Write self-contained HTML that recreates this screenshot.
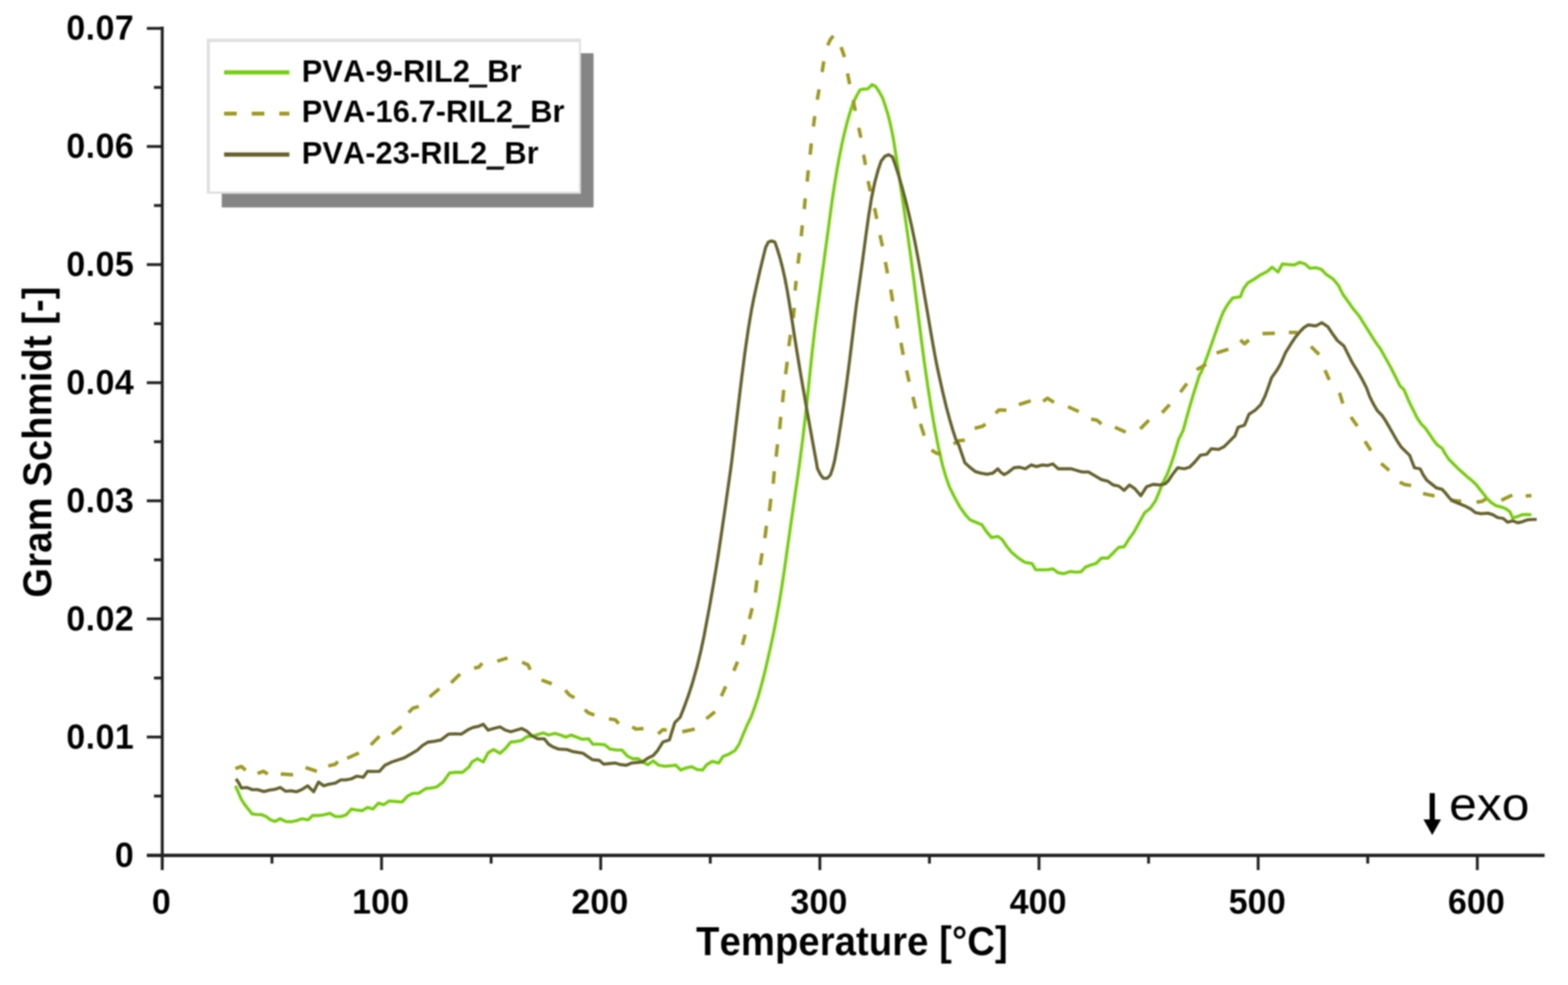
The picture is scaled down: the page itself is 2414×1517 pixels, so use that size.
<!DOCTYPE html>
<html lang="en"><head><meta charset="utf-8"><title>Gram Schmidt vs Temperature</title>
<style>
html,body{margin:0;padding:0;background:#fff;}
body{width:2414px;height:1517px;overflow:hidden;}
svg{display:block;filter:blur(1.2px);}
text{font-family:"Liberation Sans",Arial,Helvetica,sans-serif;fill:#000;font-kerning:none;}
.b{stroke:#fff;stroke-width:0.15px;}
.u{stroke:#000;stroke-width:2.4px;}
.b{font-weight:bold;}
.tk{font-size:53.6px;}
.tt{font-size:62.4px;}
.lg{font-size:47.6px;}
.ex{font-size:71.4px;}
</style></head><body>
<svg width="2414" height="1517" viewBox="0 0 2414 1517">
<rect width="2414" height="1517" fill="#fff"/>

<g fill="none" stroke-linejoin="round" stroke-linecap="butt">
<path d="M362.4,1210.3 L366.6,1219.4 L370.7,1229.4 L375.7,1237.7 L381.5,1245.2 L388.2,1253.5 L394.8,1254.3 L403.1,1254.7 L409.8,1257.6 L416.4,1262.6 L423.1,1265.1 L431.4,1261.0 L439.7,1265.1 L448.0,1265.6 L456.3,1264.0 L464.6,1261.0 L474.6,1262.6 L481.2,1256.0 L489.5,1256.0 L497.8,1255.1 L507.8,1252.7 L516.1,1257.3 L524.4,1257.6 L532.7,1255.1 L541.0,1246.0 L549.3,1247.7 L557.6,1248.5 L565.9,1243.5 L574.2,1246.0 L582.5,1236.9 L590.8,1239.4 L599.1,1233.6 L609.1,1234.4 L619.1,1235.2 L627.4,1226.1 L635.7,1221.9 L644.0,1221.9 L655.6,1214.5 L663.9,1213.6 L672.2,1212.0 L682.2,1204.5 L692.2,1190.4 L702.1,1189.5 L712.1,1189.5 L722.1,1181.2 L726.6,1173.5 L734.9,1168.5 L744.0,1173.5 L751.5,1159.4 L759.8,1154.4 L769.8,1160.2 L778.1,1152.8 L786.4,1142.8 L794.7,1142.0 L803.0,1140.3 L811.3,1134.5 L819.6,1133.7 L827.9,1131.2 L836.2,1128.7 L844.5,1132.0 L854.5,1129.5 L862.8,1132.0 L871.1,1135.3 L879.4,1132.0 L887.7,1135.3 L896.0,1138.6 L906.0,1137.8 L912.6,1146.1 L920.9,1146.1 L930.9,1146.9 L939.2,1153.6 L949.2,1155.2 L957.5,1155.2 L965.8,1164.4 L974.1,1168.5 L982.4,1168.5 L990.7,1174.4 L997.3,1177.7 L1005.6,1171.9 L1014.0,1178.5 L1023.9,1180.2 L1032.2,1179.3 L1040.5,1178.5 L1048.0,1186.0 L1056.6,1182.6 L1065.0,1180.9 L1073.3,1185.1 L1081.6,1185.9 L1088.2,1177.6 L1096.5,1172.6 L1106.5,1175.1 L1113.1,1165.1 L1121.4,1161.8 L1131.4,1156.0 L1138.0,1146.0 L1142.8,1134.4 L1149.7,1117.8 L1156.3,1104.5 L1162.3,1087.9 L1167.2,1073.0 L1172.4,1054.7 L1177.9,1033.1 L1182.5,1013.2 L1187.0,993.2 L1191.3,973.3 L1193.9,960.0 L1199.2,930.9 L1203.3,906.0 L1207.8,876.1 L1212.0,846.2 L1216.0,818.0 L1220.3,788.1 L1224.6,758.2 L1228.7,729.9 L1231.4,710.0 L1235.9,675.9 L1239.8,642.7 L1243.4,609.5 L1246.8,576.3 L1250.3,543.1 L1254.1,509.8 L1258.0,479.9 L1260.7,460.0 L1264.2,434.3 L1267.6,409.3 L1270.9,384.4 L1274.3,359.5 L1277.6,334.6 L1281.0,309.7 L1284.5,286.4 L1288.0,264.8 L1291.9,243.2 L1296.6,220.0 L1300.4,203.4 L1304.8,186.1 L1309.5,170.2 L1313.5,158.2 L1318.8,147.6 L1324.1,138.3 L1329.4,137.2 L1336.0,136.9 L1342.7,130.3 L1348.0,133.0 L1353.3,140.9 L1358.6,150.2 L1362.7,162.2 L1366.8,175.5 L1370.2,188.8 L1373.1,202.1 L1375.4,214.0 L1378.2,231.6 L1382.1,256.5 L1387.0,289.7 L1392.4,326.3 L1397.1,359.5 L1401.8,392.7 L1406.9,430.9 L1410.5,460.0 L1414.7,493.2 L1418.9,526.4 L1423.3,559.7 L1428.1,592.9 L1433.3,626.1 L1439.0,659.3 L1445.5,692.6 L1451.1,716.6 L1455.9,733.2 L1461.6,749.8 L1469.9,766.4 L1478.2,781.4 L1486.5,793.0 L1493.2,800.5 L1503.2,804.7 L1511.5,808.0 L1518.1,817.9 L1526.4,827.9 L1536.4,826.2 L1543.0,831.2 L1549.7,841.2 L1558.0,851.2 L1567.9,859.5 L1577.9,866.1 L1588.7,867.8 L1594.5,877.4 L1604.5,877.7 L1612.8,877.4 L1621.1,876.1 L1628.6,881.9 L1637.7,883.6 L1647.7,880.2 L1656.0,881.1 L1664.3,880.7 L1670.9,873.6 L1679.2,870.3 L1687.5,867.8 L1695.8,859.5 L1705.8,859.5 L1714.1,851.2 L1722.4,842.9 L1730.7,842.0 L1737.4,831.2 L1745.7,819.6 L1754.0,804.7 L1762.3,789.7 L1770.6,783.1 L1778.9,771.4 L1785.1,756.5 L1790.5,743.2 L1797.2,729.9 L1803.4,713.3 L1807.8,700.0 L1814.8,676.3 L1821.5,663.0 L1826.5,644.7 L1831.6,626.4 L1836.5,609.8 L1841.7,593.2 L1846.4,578.3 L1849.7,572.6 L1856.5,554.4 L1862.5,537.7 L1867.8,522.8 L1873.5,506.2 L1878.4,492.9 L1882.9,481.3 L1889.6,469.6 L1897.9,458.8 L1909.5,457.2 L1914.5,444.7 L1921.1,435.6 L1931.1,429.8 L1941.1,423.1 L1951.0,418.1 L1958.5,411.5 L1967.6,419.0 L1974.3,406.5 L1982.6,407.3 L1992.6,408.2 L2000.9,404.0 L2009.2,406.5 L2016.6,413.2 L2025.8,412.3 L2034.1,414.8 L2042.4,423.1 L2052.4,429.8 L2060.7,439.7 L2067.3,453.0 L2075.6,464.7 L2083.9,476.3 L2092.2,486.2 L2100.5,499.5 L2108.8,512.8 L2117.1,526.1 L2125.4,537.7 L2133.8,552.7 L2142.1,567.6 L2148.7,580.9 L2155.3,594.2 L2161.4,600.0 L2165.8,610.3 L2170.3,620.6 L2176.1,632.3 L2182.0,644.1 L2187.9,652.9 L2195.2,660.3 L2201.1,669.1 L2207.0,677.9 L2212.9,685.3 L2220.2,690.4 L2224.7,698.5 L2230.5,707.3 L2237.9,714.7 L2245.2,722.0 L2252.6,728.6 L2259.9,735.2 L2267.3,741.1 L2273.2,747.0 L2279.0,754.4 L2284.9,761.7 L2289.3,767.6 L2295.2,773.5 L2302.6,778.6 L2311.4,780.8 L2318.7,783.8 L2324.6,788.2 L2329.0,797.7 L2336.4,795.5 L2343.7,792.6 L2351.1,792.3 L2357.7,792.9" stroke="#78cd12" stroke-width="4.8"/>
<g stroke="#9d9a22" stroke-width="5.4">
<path d="M362.4,1183.7 L371.6,1180.4 L378.2,1186.2"/>
<path d="M396.5,1191.2 L405.6,1187.9 L412.3,1192.0"/>
<path d="M432.2,1192.0 L451.3,1193.2"/>
<path d="M470.4,1182.1 L487.8,1187.9"/>
<path d="M505.3,1179.6 L516.1,1177.1 L520.2,1172.9"/>
<path d="M534.4,1167.9 L552.6,1159.6"/>
<path d="M570.9,1147.2 L584.2,1133.9"/>
<path d="M603.3,1130.6 L618.2,1118.9"/>
<path d="M629.0,1097.3 L635.7,1090.7 L644.8,1088.2"/>
<path d="M661.4,1073.3 L676.4,1060.8"/>
<path d="M694.5,1051.5 L708.3,1038.1"/>
<path d="M729.9,1029.0 L737.4,1027.3 L742.4,1021.5"/>
<path d="M765.6,1018.2 L781.4,1013.2"/>
<path d="M803.8,1019.9 L813.0,1024.0 L816.3,1031.5"/>
<path d="M833.7,1047.3 L849.5,1053.1"/>
<path d="M870.3,1063.1 L876.9,1070.5 L884.4,1074.7"/>
<path d="M900.2,1093.0 L906.0,1097.9 L915.1,1101.3"/>
<path d="M937.5,1107.1 L947.5,1108.7 L952.5,1114.6"/>
<path d="M973.3,1119.5 L979.1,1122.9 L990.7,1122.0"/>
<path d="M1013.1,1130.3 L1020.6,1123.7 L1026.4,1124.5"/>
<path d="M1050.5,1127.0 L1069.6,1122.9"/>
<path d="M1087.4,1107.0 L1100.7,1096.2"/>
<path d="M1110.6,1072.1 L1117.3,1057.2"/>
<path d="M1129.7,1033.1 L1135.5,1019.0"/>
<path d="M1143.0,993.2 L1147.2,977.4"/>
<path d="M1153.8,953.4 L1158.0,936.7"/>
<path d="M1163.0,912.7 L1165.4,893.6"/>
<path d="M1170.4,870.3 L1173.3,852.0"/>
<path d="M1177.6,828.8 L1179.9,809.7"/>
<path d="M1184.6,787.2 L1186.7,768.1"/>
<path d="M1190.4,744.9 L1192.0,725.8"/>
<path d="M1194.9,703.4 L1197.0,684.3"/>
<path d="M1200.3,661.0 L1202.0,641.9"/>
<path d="M1204.8,619.5 L1206.5,600.4"/>
<path d="M1209.5,576.3 L1212.0,557.2"/>
<path d="M1214.5,533.1 L1216.9,515.6"/>
<path d="M1221.1,489.9 L1222.8,474.1"/>
<path d="M1224.1,447.5 L1225.7,432.6"/>
<path d="M1228.6,406.0 L1230.7,389.4"/>
<path d="M1233.6,363.7 L1235.2,347.0"/>
<path d="M1238.2,322.1 L1239.7,305.5"/>
<path d="M1242.7,279.8 L1244.4,262.3"/>
<path d="M1247.3,238.2 L1249.0,220.8"/>
<path d="M1252.3,194.8 L1254.3,178.8"/>
<path d="M1258.3,153.6 L1261.0,137.6"/>
<path d="M1265.6,111.0 L1268.3,94.4"/>
<path d="M1274.3,69.8 L1278.2,61.2 L1282.9,55.2"/>
<path d="M1294.9,72.5 L1300.2,87.8"/>
<path d="M1304.8,113.0 L1308.1,129.6"/>
<path d="M1313.5,154.2 L1316.8,170.8"/>
<path d="M1322.1,196.7 L1325.4,212.0"/>
<path d="M1329.6,238.2 L1332.4,254.0"/>
<path d="M1336.5,278.9 L1339.9,294.7"/>
<path d="M1346.5,320.5 L1349.8,337.1"/>
<path d="M1354.8,362.0 L1358.6,379.4"/>
<path d="M1363.1,403.5 L1366.4,421.0"/>
<path d="M1371.4,445.9 L1374.3,464.2"/>
<path d="M1378.9,486.6 L1382.2,505.7"/>
<path d="M1387.2,528.1 L1390.5,546.4"/>
<path d="M1395.8,570.5 L1399.7,587.9"/>
<path d="M1405.5,611.2 L1409.6,629.4"/>
<path d="M1417.1,652.7 L1422.9,671.0"/>
<path d="M1434.1,692.9 L1441.5,697.9 L1449.0,699.5"/>
<path d="M1468.1,683.8 L1476.4,678.8 L1485.5,677.9"/>
<path d="M1500.5,659.7 L1513.0,656.3 L1517.1,653.0"/>
<path d="M1532.9,636.4 L1537.9,631.4 L1549.5,631.8"/>
<path d="M1568.6,623.1 L1586.9,617.3"/>
<path d="M1606.0,618.1 L1612.6,613.2 L1622.6,619.8"/>
<path d="M1644.2,626.4 L1660.8,633.9"/>
<path d="M1679.9,645.5 L1689.0,647.2 L1695.7,653.0"/>
<path d="M1716.4,658.0 L1733.1,665.5"/>
<path d="M1755.5,660.5 L1768.8,647.2"/>
<path d="M1789.1,635.6 L1800.7,623.1"/>
<path d="M1817.3,604.0 L1827.3,590.7"/>
<path d="M1842.2,569.3 L1857.2,561.0"/>
<path d="M1873.0,543.6 L1891.2,537.7"/>
<path d="M1909.5,523.6 L1916.1,529.4 L1922.8,523.6"/>
<path d="M1943.6,513.7 L1962.7,513.2"/>
<path d="M1984.3,512.0 L1997.5,512.0"/>
<path d="M2018.3,533.6 L2030.8,546.0"/>
<path d="M2039.9,570.1 L2046.5,585.1"/>
<path d="M2062.3,604.9 L2067.3,621.5"/>
<path d="M2079.8,642.2 L2089.7,656.3"/>
<path d="M2101.4,679.6 L2110.5,693.7"/>
<path d="M2126.3,713.7 L2138.7,724.5"/>
<path d="M2154.8,742.6 L2162.9,746.3 L2172.5,747.7"/>
<path d="M2190.8,760.2 L2208.5,763.9"/>
<path d="M2232.7,770.5 L2249.6,772.0"/>
<path d="M2273.2,773.5 L2282.0,772.0 L2287.9,768.3"/>
<path d="M2311.4,770.5 L2328.3,762.4"/>
<path d="M2348.9,763.9 L2357.7,763.2"/>
</g>
<path d="M363.3,1199.5 L367.4,1205.3 L371.6,1213.6 L379.9,1212.8 L388.2,1216.1 L396.5,1216.1 L406.4,1219.1 L414.8,1216.9 L424.7,1215.3 L431.4,1212.8 L439.7,1218.6 L448.0,1217.8 L456.3,1219.4 L464.6,1216.1 L473.7,1210.3 L477.9,1214.5 L482.9,1219.4 L490.3,1204.5 L498.6,1210.3 L506.1,1207.8 L516.1,1206.1 L524.4,1201.2 L532.7,1201.2 L541.0,1199.5 L549.3,1195.3 L559.3,1197.0 L565.9,1187.9 L575.9,1188.2 L584.2,1187.9 L592.5,1178.7 L602.5,1173.8 L612.4,1170.4 L622.4,1167.1 L632.4,1161.3 L642.3,1155.5 L650.6,1148.0 L658.9,1143.0 L668.9,1141.7 L678.9,1139.7 L690.5,1130.6 L700.5,1130.2 L710.4,1130.6 L720.4,1123.9 L728.2,1120.4 L736.5,1118.7 L744.0,1115.4 L751.5,1124.5 L759.8,1122.0 L769.8,1119.5 L778.1,1124.5 L786.4,1127.0 L794.7,1124.5 L803.0,1122.0 L811.3,1126.2 L819.6,1133.7 L827.9,1137.8 L837.9,1137.8 L844.5,1146.1 L851.2,1150.3 L859.5,1153.6 L872.8,1154.4 L882.7,1157.7 L897.7,1160.2 L906.0,1166.0 L912.6,1170.2 L922.6,1171.0 L929.2,1176.8 L937.5,1176.0 L947.5,1175.2 L955.8,1177.7 L964.1,1178.5 L972.4,1175.2 L980.7,1174.4 L989.0,1173.5 L997.3,1167.7 L1005.6,1163.6 L1012.3,1156.1 L1020.6,1142.8 L1030.6,1139.5 L1034.2,1127.8 L1038.9,1112.9 L1047.2,1104.6 L1053.7,1088.0 L1059.7,1071.4 L1066.2,1051.4 L1073.2,1026.5 L1079.2,1001.6 L1083.8,980.0 L1093.0,930.9 L1099.6,892.7 L1105.0,859.5 L1110.5,823.0 L1115.6,788.1 L1120.8,751.5 L1124.8,723.3 L1126.6,710.0 L1131.6,667.6 L1136.5,626.1 L1141.5,584.6 L1146.8,543.1 L1152.1,506.5 L1157.1,476.6 L1160.4,460.0 L1164.9,439.2 L1169.8,417.6 L1175.0,396.0 L1178.7,381.1 L1182.9,372.8 L1187.9,371.1 L1192.9,372.8 L1196.4,382.8 L1200.5,396.0 L1204.8,412.7 L1208.5,429.3 L1211.7,445.9 L1214.1,460.0 L1218.1,484.9 L1222.7,514.8 L1228.0,548.0 L1232.7,576.3 L1237.8,606.2 L1242.8,634.4 L1247.9,662.7 L1252.7,689.2 L1256.5,710.0 L1258.5,721.6 L1263.5,731.6 L1267.6,736.6 L1273.4,736.6 L1278.4,731.6 L1281.8,721.6 L1284.8,710.0 L1289.5,684.3 L1294.2,654.4 L1298.7,624.5 L1303.1,592.9 L1307.4,559.7 L1311.5,526.4 L1315.1,496.5 L1318.6,468.3 L1319.8,460.0 L1323.9,430.9 L1328.0,401.0 L1332.4,367.8 L1337.0,334.6 L1341.8,304.7 L1347.0,279.8 L1352.0,261.5 L1356.5,248.2 L1362.3,240.7 L1368.1,238.2 L1373.9,241.6 L1378.1,253.2 L1383.4,269.8 L1388.7,288.1 L1393.6,306.3 L1398.5,326.3 L1403.4,347.9 L1408.6,372.8 L1413.4,397.7 L1417.9,422.6 L1421.8,445.9 L1424.2,460.0 L1428.5,484.9 L1433.6,514.8 L1439.2,546.4 L1441.8,560.0 L1446.4,581.6 L1452.0,606.5 L1456.8,626.4 L1461.7,644.7 L1467.1,663.0 L1471.4,676.3 L1476.4,686.2 L1481.5,701.2 L1485.5,712.8 L1493.0,719.5 L1501.3,726.1 L1509.6,728.6 L1519.6,730.3 L1528.7,728.6 L1536.2,722.0 L1541.2,727.8 L1546.2,731.1 L1552.8,726.9 L1561.1,720.3 L1569.4,719.5 L1578.6,722.0 L1587.7,716.1 L1596.0,718.6 L1604.3,716.1 L1612.6,717.0 L1620.9,714.5 L1629.2,722.0 L1639.2,722.0 L1649.2,722.0 L1657.5,724.5 L1665.8,726.9 L1675.7,726.9 L1685.7,732.8 L1695.7,738.6 L1705.6,741.1 L1714.0,746.9 L1722.3,748.5 L1730.6,755.2 L1738.9,746.9 L1747.2,752.7 L1756.3,763.5 L1765.4,749.4 L1775.4,746.0 L1785.4,746.9 L1793.7,745.2 L1798.2,741.1 L1804.9,731.1 L1813.2,720.3 L1823.1,722.0 L1831.4,719.5 L1839.7,711.2 L1848.0,701.2 L1858.0,699.5 L1864.7,691.2 L1876.3,692.1 L1884.6,687.9 L1892.9,679.6 L1901.2,671.3 L1906.2,658.0 L1916.1,654.7 L1922.8,638.1 L1932.8,631.4 L1941.1,623.1 L1947.7,609.8 L1952.5,596.5 L1957.7,581.6 L1966.0,570.0 L1971.8,560.0 L1979.3,542.7 L1987.6,529.4 L1994.2,519.5 L2000.9,511.2 L2007.5,504.5 L2014.2,500.4 L2025.8,502.0 L2034.9,497.0 L2044.1,502.9 L2050.7,512.8 L2059.0,524.5 L2069.0,532.8 L2075.6,546.0 L2082.3,559.3 L2090.6,572.6 L2097.2,584.3 L2103.9,597.5 L2108.5,610.3 L2114.4,622.1 L2120.3,632.3 L2127.6,639.7 L2133.5,648.5 L2139.4,658.8 L2145.3,669.1 L2151.1,679.4 L2157.0,688.2 L2164.4,695.6 L2170.3,701.4 L2173.7,710.3 L2177.6,720.5 L2186.4,722.0 L2190.8,730.8 L2196.7,739.7 L2204.1,745.5 L2211.4,751.4 L2220.2,753.6 L2226.1,760.2 L2232.0,767.6 L2237.9,772.0 L2246.7,775.7 L2255.5,779.4 L2264.3,783.8 L2271.7,789.6 L2280.5,791.1 L2290.8,790.4 L2298.2,792.6 L2305.5,797.0 L2314.3,798.5 L2320.9,804.3 L2329.0,802.1 L2336.4,805.1 L2343.7,803.6 L2351.1,800.7 L2358.4,800.2 L2365.8,799.9" stroke="#65622d" stroke-width="4.8"/>
</g>
<g stroke="#222" stroke-width="4.4" fill="none">
<path d="M249.8,41 V1340" stroke-width="4.6"/>
<path d="M226,1317.3 H2378" stroke-width="5.2"/>
<path d="M226,1135.1 H250"/>
<path d="M226,953.2 H250"/>
<path d="M226,771.3 H250"/>
<path d="M226,589.4 H250"/>
<path d="M226,407.5 H250"/>
<path d="M226,225.6 H250"/>
<path d="M226,43.7 H250"/>
<path d="M237,1226.0 H250"/>
<path d="M237,1044.2 H250"/>
<path d="M237,862.2 H250"/>
<path d="M237,680.3 H250"/>
<path d="M237,498.5 H250"/>
<path d="M237,316.5 H250"/>
<path d="M237,134.6 H250"/>
<path d="M587.4,1317.0 V1340"/>
<path d="M924.8,1317.0 V1340"/>
<path d="M1262.2,1317.0 V1340"/>
<path d="M1599.6,1317.0 V1340"/>
<path d="M1937.0,1317.0 V1340"/>
<path d="M2274.4,1317.0 V1340"/>
<path d="M418.7,1317.0 V1330"/>
<path d="M756.1,1317.0 V1330"/>
<path d="M1093.5,1317.0 V1330"/>
<path d="M1430.9,1317.0 V1330"/>
<path d="M1768.3,1317.0 V1330"/>
<path d="M2105.7,1317.0 V1330"/>
</g>
<g class="b tk">
<text transform="translate(206.7,1334.6) scale(0.982,1)" text-anchor="end" style="letter-spacing:0.6px">0</text>
<text transform="translate(206.7,1152.7) scale(0.982,1)" text-anchor="end" style="letter-spacing:0.6px">0.01</text>
<text transform="translate(206.7,970.8) scale(0.982,1)" text-anchor="end" style="letter-spacing:0.6px">0.02</text>
<text transform="translate(206.7,788.9) scale(0.982,1)" text-anchor="end" style="letter-spacing:0.6px">0.03</text>
<text transform="translate(206.7,607.0) scale(0.982,1)" text-anchor="end" style="letter-spacing:0.6px">0.04</text>
<text transform="translate(206.7,425.1) scale(0.982,1)" text-anchor="end" style="letter-spacing:0.6px">0.05</text>
<text transform="translate(206.7,243.2) scale(0.982,1)" text-anchor="end" style="letter-spacing:0.6px">0.06</text>
<text transform="translate(206.7,61.3) scale(0.982,1)" text-anchor="end" style="letter-spacing:0.6px">0.07</text>
<text transform="translate(248.5,1406.8) scale(0.982,1)" text-anchor="middle">0</text>
<text transform="translate(585.9,1406.8) scale(0.982,1)" text-anchor="middle">100</text>
<text transform="translate(923.3,1406.8) scale(0.982,1)" text-anchor="middle">200</text>
<text transform="translate(1260.7,1406.8) scale(0.982,1)" text-anchor="middle">300</text>
<text transform="translate(1598.1,1406.8) scale(0.982,1)" text-anchor="middle">400</text>
<text transform="translate(1935.5,1406.8) scale(0.982,1)" text-anchor="middle">500</text>
<text transform="translate(2272.9,1406.8) scale(0.982,1)" text-anchor="middle">600</text>
</g>
<text class="b tt" transform="translate(1311.5,1471.3) scale(0.947,1)" text-anchor="middle">Temperature [°C]</text>
<text class="b tt" transform="translate(79.3,680.8) rotate(-90) scale(0.947,1)" text-anchor="middle">Gram Schmidt [-]</text>
<rect x="341.4" y="82" width="572.4" height="237.5" fill="#858585"/>
<rect x="318.3" y="59.6" width="576" height="238.8" fill="#dfdfdf"/>
<rect x="323" y="64.8" width="568.3" height="230.2" fill="#fff"/>
<path d="M345,111.6 H445.5" stroke="#78cd12" stroke-width="6.5" fill="none"/>
<path d="M345,175 H445.5" stroke="#9d9a22" stroke-width="6" fill="none" stroke-dasharray="19.5 23"/>
<path d="M345,238 H445.5" stroke="#65622d" stroke-width="6.5" fill="none"/>
<g class="b lg">
<text x="464.4" y="126">PVA-9-RIL2_Br</text>
<text x="464.4" y="187.9">PVA-16.7-RIL2_Br</text>
<text x="464.4" y="252">PVA-23-RIL2_Br</text>
</g>
<g fill="#111"><rect x="722" y="130.6" width="28" height="4.2"/><rect x="788.3" y="193.2" width="27" height="4.2"/><rect x="748.8" y="257.2" width="26.8" height="4.2"/></g>
<path d="M2205,1221.5 V1266" stroke="#000" stroke-width="8" fill="none"/>
<path d="M2191.5,1262 H2218.5 L2205,1286 Z" fill="#000"/>
<text class="ex" transform="translate(2231,1263.3) scale(1.074,1)">exo</text>
</svg></body></html>
